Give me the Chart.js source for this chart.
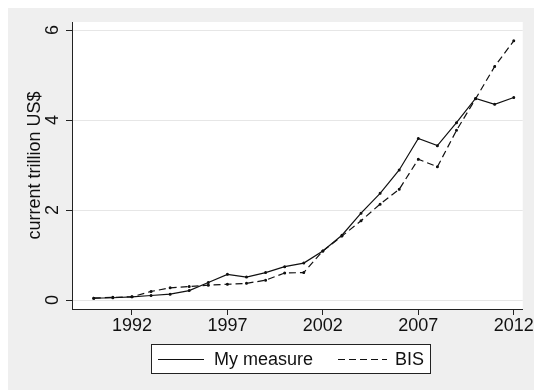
<!DOCTYPE html>
<html>
<head>
<meta charset="utf-8">
<script src="https://cdn.jsdelivr.net/npm/chart.js@4/dist/chart.umd.min.js"></script>
<style>
  html, body { margin: 0; padding: 0; background: #ffffff; }
  #wrap { width: 534px; height: 390px; }
</style>
</head>
<body>
<div id="wrap"><canvas id="c" width="534" height="390"></canvas></div>
<script>
// Annual values, current trillion US$
const years = [1990, 1991, 1992, 1993, 1994, 1995, 1996, 1997, 1998, 1999, 2000,
               2001, 2002, 2003, 2004, 2005, 2006, 2007, 2008, 2009, 2010, 2011, 2012];
const myMeasure = [0.04, 0.05, 0.07, 0.10, 0.13, 0.21, 0.39, 0.57, 0.51, 0.61, 0.74,
                   0.82, 1.09, 1.44, 1.93, 2.37, 2.89, 3.59, 3.43, 3.94, 4.48, 4.35, 4.50];
const bis = [0.04, 0.06, 0.07, 0.19, 0.27, 0.30, 0.33, 0.35, 0.37, 0.44, 0.60,
             0.61, 1.09, 1.42, 1.76, 2.13, 2.46, 3.13, 2.96, 3.77, 4.47, 5.19, 5.76];
const xTicks = [1992, 1997, 2002, 2007, 2012];
const yTicks = [0, 2, 4, 6];
const seriesNames = ['My measure', 'BIS'];
const yTitle = 'current trillion US$';

const FONT = '"Liberation Sans", Arial, Helvetica, sans-serif';
const INK = '#111111';

const toPoints = vals => years.map((yr, i) => ({ x: yr, y: vals[i] }));

// Page background, grey graph region and white plot region
const backdrop = {
  id: 'backdrop',
  beforeDraw(chart) {
    const { ctx, chartArea: a } = chart;
    ctx.save();
    ctx.fillStyle = '#ffffff';
    ctx.fillRect(0, 0, chart.width, chart.height);
    ctx.fillStyle = '#efefef';
    ctx.fillRect(8, 8, chart.width - 8, chart.height - 8);
    ctx.fillStyle = '#ffffff';
    ctx.fillRect(a.left, a.top, a.right - a.left, a.bottom - a.top);
    ctx.restore();
  }
};

// Boxed key below the axis
const keyBox = {
  id: 'keyBox',
  afterDraw(chart) {
    const { ctx } = chart;
    const ds = chart.data.datasets;
    const top = 344, h = 30, left = 151, right = 431;
    const mid = top + h / 2;
    ctx.save();
    ctx.fillStyle = '#ffffff';
    ctx.fillRect(left, top, right - left, h);
    ctx.strokeStyle = '#222222';
    ctx.lineWidth = 1;
    ctx.strokeRect(left + 0.5, top + 0.5, right - left - 1, h - 1);
    ctx.font = '18px ' + FONT;
    ctx.fillStyle = INK;
    ctx.textBaseline = 'middle';
    ctx.textAlign = 'left';
    const entries = [
      { x0: 158, x1: 204, tx: 214, d: ds[0] },
      { x0: 338, x1: 387, tx: 395, d: ds[1] }
    ];
    entries.forEach(e => {
      ctx.beginPath();
      ctx.setLineDash(e.d.borderDash || []);
      ctx.strokeStyle = e.d.borderColor;
      ctx.lineWidth = 1.2;
      ctx.moveTo(e.x0, mid + 0.5);
      ctx.lineTo(e.x1, mid + 0.5);
      ctx.stroke();
      ctx.setLineDash([]);
      ctx.fillText(e.d.label, e.tx, mid + 1);
    });
    ctx.restore();
  }
};

new Chart(document.getElementById('c'), {
  type: 'line',
  data: {
    datasets: [
      {
        label: seriesNames[0],
        data: toPoints(myMeasure),
        borderColor: '#111111',
        backgroundColor: '#111111',
        borderWidth: 1.2,
        pointRadius: 0.9,
        pointHoverRadius: 0.9,
        tension: 0,
        fill: false
      },
      {
        label: seriesNames[1],
        data: toPoints(bis),
        borderColor: '#111111',
        backgroundColor: '#111111',
        borderWidth: 1.2,
        borderDash: [7, 4],
        pointRadius: 0.9,
        pointHoverRadius: 0.9,
        tension: 0,
        fill: false
      }
    ]
  },
  options: {
    responsive: false,
    animation: false,
    events: [],
    layout: { padding: { left: 0, top: 22, right: 11, bottom: 0 } },
    plugins: {
      legend: { display: false },
      tooltip: { enabled: false }
    },
    scales: {
      x: {
        type: 'linear',
        min: 1988.86,
        max: 2012.47,
        afterBuildTicks: s => { s.ticks = xTicks.map(v => ({ value: v })); },
        afterFit: s => { s.height = 81; },
        grid: {
          drawOnChartArea: false,
          drawTicks: true,
          tickLength: 6,
          tickColor: '#222222'
        },
        border: { display: true, color: '#222222', width: 1 },
        ticks: {
          callback: v => String(v),
          color: INK,
          font: { family: FONT, size: 18 },
          padding: 0,
          maxRotation: 0,
          autoSkip: false
        }
      },
      y: {
        type: 'linear',
        min: -0.2,
        max: 6.178,
        afterBuildTicks: s => { s.ticks = yTicks.map(v => ({ value: v })); },
        afterFit: s => { s.width = 72; },
        grid: {
          drawOnChartArea: true,
          color: '#e6e6e6',
          lineWidth: 1,
          drawTicks: true,
          tickLength: 6,
          tickColor: '#222222'
        },
        border: { display: true, color: '#222222', width: 1 },
        ticks: {
          callback: v => String(v),
          color: INK,
          font: { family: FONT, size: 18 },
          minRotation: 90,
          maxRotation: 90,
          crossAlign: 'center',
          padding: 8,
          autoSkip: false
        },
        title: {
          display: true,
          text: yTitle,
          color: INK,
          font: { family: FONT, size: 18 },
          padding: { top: 24, bottom: 0 }
        }
      }
    }
  },
  plugins: [backdrop, keyBox]
});
</script>
</body>
</html>
